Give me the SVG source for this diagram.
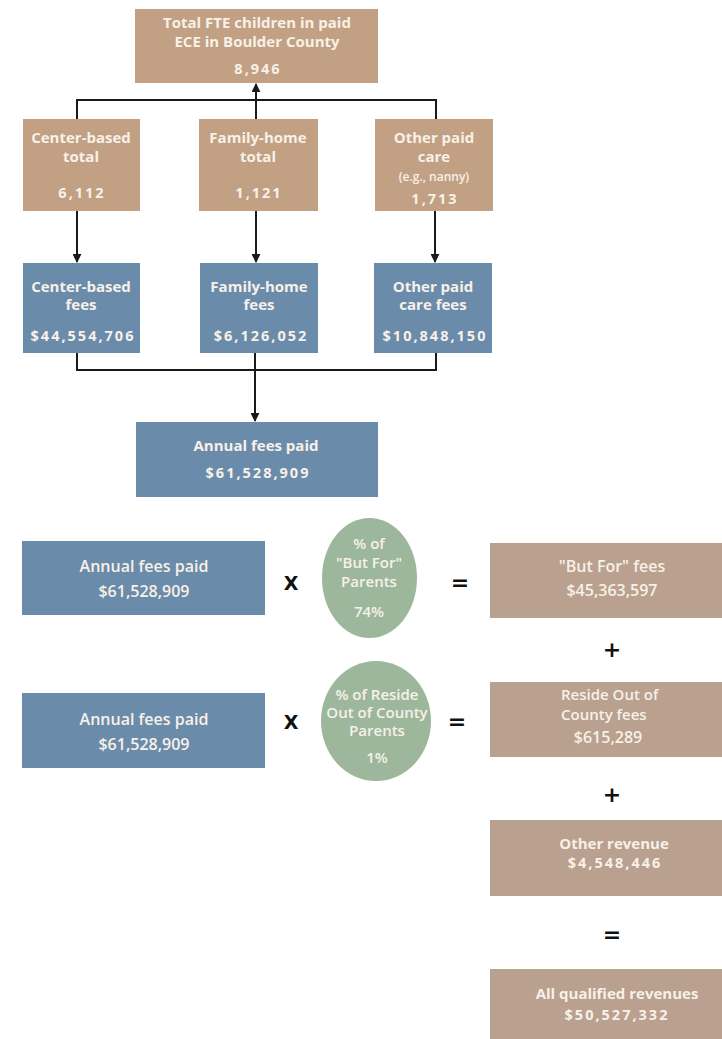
<svg xmlns="http://www.w3.org/2000/svg" width="722" height="1039" viewBox="0 0 722 1039">
<style>
.tan{fill:#c2a083}
.tan2{fill:#b9a08f}
.blue{fill:#6b8bab}
.green{fill:#9db79d}
text{font-family:"Open Sans","DejaVu Sans",sans-serif;font-weight:700;fill:#f7f1e8;text-anchor:middle}
.t{font-size:15px}
.n{font-size:14.5px;letter-spacing:2px}
.s{font-size:12px;font-weight:600}
.c{font-size:16px;font-weight:600}
.e{font-size:15px;font-weight:600}
.r{font-size:15px;font-weight:600;text-anchor:start}
.op{fill:#111;font-size:22px;font-weight:700;font-family:"DejaVu Sans",sans-serif}
.x{fill:#111;font-size:19px;font-weight:700;font-family:"DejaVu Sans",sans-serif}
.ln{stroke:#1a1a1a;stroke-width:2;fill:none}
</style>
<defs>
<marker id="ah" viewBox="0 0 10 10" refX="9" refY="5" markerWidth="4.5" markerHeight="4.5" orient="auto-start-reverse" markerUnits="strokeWidth">
<path d="M0,0 L10,5 L0,10 z" fill="#1a1a1a"/>
</marker>
</defs>
<g id="connectors">
<path class="ln" d="M77,119 V100 H436 V119"/>
<path class="ln" d="M256,119 V100"/>
<path class="ln" d="M256,100 V84" marker-end="url(#ah)"/>
<path class="ln" d="M77,211 V262" marker-end="url(#ah)"/>
<path class="ln" d="M256,211 V262" marker-end="url(#ah)"/>
<path class="ln" d="M435,211 V262" marker-end="url(#ah)"/>
<path class="ln" d="M77,353 V370 H436 V353"/>
<path class="ln" d="M255,353 V421" marker-end="url(#ah)"/>
</g>
<g id="total">
<rect class="tan" x="135" y="9" width="243" height="74"/>
<text class="t" x="257" y="28">Total FTE children in paid</text>
<text class="t" x="257" y="47">ECE in Boulder County</text>
<text class="n" x="258" y="74">8,946</text>
</g>
<g id="center-total">
<rect class="tan" x="23" y="119" width="117" height="92"/>
<text class="t" x="81" y="143">Center-based</text>
<text class="t" x="81" y="162">total</text>
<text class="n" x="82" y="198">6,112</text>
</g>
<g id="family-total">
<rect class="tan" x="199" y="119" width="119" height="92"/>
<text class="t" x="258" y="143">Family-home</text>
<text class="t" x="258" y="162">total</text>
<text class="n" x="259" y="198">1,121</text>
</g>
<g id="other-total">
<rect class="tan" x="375" y="119" width="118" height="92"/>
<text class="t" x="434" y="143">Other paid</text>
<text class="t" x="434" y="162">care</text>
<text class="s" x="434" y="181">(e.g., nanny)</text>
<text class="n" x="435" y="204">1,713</text>
</g>
<g id="center-fees">
<rect class="blue" x="23" y="263" width="117" height="90"/>
<text class="t" x="81" y="292">Center-based</text>
<text class="t" x="81" y="310">fees</text>
<text class="n" x="83" y="341">$44,554,706</text>
</g>
<g id="family-fees">
<rect class="blue" x="200" y="263" width="118" height="90"/>
<text class="t" x="259" y="292">Family-home</text>
<text class="t" x="259" y="310">fees</text>
<text class="n" x="261" y="341">$6,126,052</text>
</g>
<g id="other-fees">
<rect class="blue" x="374" y="263" width="118" height="90"/>
<text class="t" x="433" y="292">Other paid</text>
<text class="t" x="433" y="310">care fees</text>
<text class="n" x="435" y="341">$10,848,150</text>
</g>
<g id="annual">
<rect class="blue" x="136" y="422" width="242" height="75"/>
<text class="t" x="256" y="451">Annual fees paid</text>
<text class="n" x="258" y="478">$61,528,909</text>
</g>
<g id="annual-1">
<rect class="blue" x="22" y="541" width="243" height="74"/>
<text class="c" x="144" y="572">Annual fees paid</text>
<text class="c" x="144" y="597">$61,528,909</text>
</g>
<text class="x" x="291" y="590">X</text>
<g id="butfor-pct">
<ellipse class="green" cx="369.5" cy="578" rx="47.5" ry="60"/>
<text class="e" x="369" y="549">% of</text>
<text class="e" x="369" y="568">"But For"</text>
<text class="e" x="369" y="587">Parents</text>
<text class="e" x="369" y="617">74%</text>
</g>
<text class="op" x="460" y="590">=</text>
<g id="butfor-fees">
<rect class="tan2" x="490" y="543" width="232" height="75"/>
<text class="c" x="612" y="572">"But For" fees</text>
<text class="c" x="612" y="596">$45,363,597</text>
</g>
<text class="op" x="612" y="657">+</text>
<g id="annual-2">
<rect class="blue" x="22" y="693" width="243" height="75"/>
<text class="c" x="144" y="725">Annual fees paid</text>
<text class="c" x="144" y="750">$61,528,909</text>
</g>
<text class="x" x="291" y="729">X</text>
<g id="reside-pct">
<ellipse class="green" cx="376" cy="721" rx="55" ry="60"/>
<text class="e" x="377" y="700">% of Reside</text>
<text class="e" x="377" y="718">Out of County</text>
<text class="e" x="377" y="736">Parents</text>
<text class="e" x="377" y="763">1%</text>
</g>
<text class="op" x="457" y="729">=</text>
<g id="reside-fees">
<rect class="tan2" x="490" y="682" width="232" height="75"/>
<text class="r" x="561" y="700">Reside Out of</text>
<text class="r" x="561" y="720">County fees</text>
<text class="c" x="608" y="743">$615,289</text>
</g>
<text class="op" x="612" y="802">+</text>
<g id="other-revenue">
<rect class="tan2" x="490" y="820" width="232" height="76"/>
<text class="t" x="614" y="849">Other revenue</text>
<text class="n" x="615" y="868">$4,548,446</text>
</g>
<text class="op" x="612" y="942">=</text>
<g id="all-revenues">
<rect class="tan2" x="490" y="969" width="232" height="70"/>
<text class="t" x="617" y="999">All qualified revenues</text>
<text class="n" x="617" y="1020">$50,527,332</text>
</g>
</svg>
